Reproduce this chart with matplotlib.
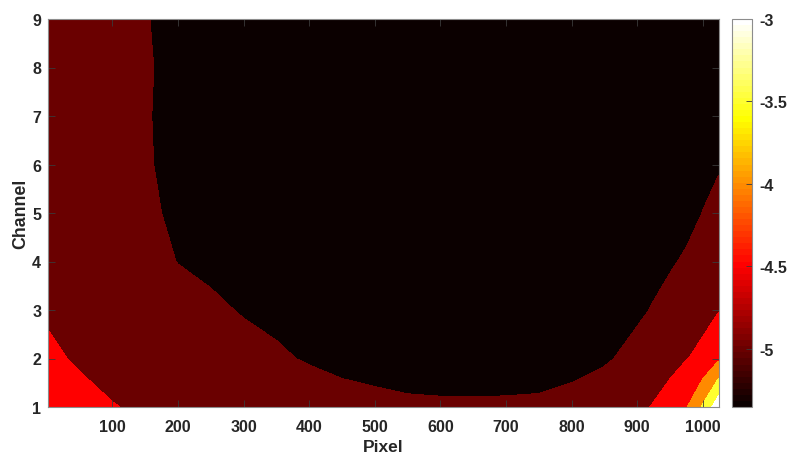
import numpy as np
import matplotlib
matplotlib.use("Agg")
import matplotlib.pyplot as plt
from matplotlib.colors import ListedColormap, Normalize
from matplotlib.cm import ScalarMappable

plt.rcParams["font.family"] = ["Liberation Sans", "DejaVu Sans"]
plt.rcParams["font.weight"] = "bold"

# Sample grid: detector pixel columns and channel rows
pixels = [1, 50, 100, 150, 200, 250, 300, 350, 400, 450, 500, 550, 600,
          650, 700, 750, 800, 850, 900, 925, 950, 975, 1000, 1024]
channels = [1, 2, 3, 4, 5, 6, 7, 8, 9]

# log10 signal per channel, one value per pixel column
ch1 = [-4.25, -4.36, -4.47, -4.60, -4.70, -4.76, -4.80, -4.84, -4.87, -4.90, -4.92, -4.94,
       -4.94, -4.94, -4.94, -4.93, -4.88, -4.79, -4.60, -4.47, -4.25, -4.03, -3.44, -2.68]
ch2 = [-4.42, -4.55, -4.74, -4.76, -4.82, -4.86, -4.90, -4.97, -5.02, -5.07, -5.11, -5.16,
       -5.21, -5.23, -5.20, -5.18, -5.12, -5.04, -4.90, -4.75, -4.68, -4.515, -4.40, -4.07]
ch3 = [-4.55, -4.68, -4.80, -4.85, -4.89, -4.95, -5.02, -5.05, -5.12, -5.16, -5.20, -5.24,
       -5.26, -5.27, -5.26, -5.24, -5.20, -5.14, -5.05, -4.98, -4.92, -4.75, -4.62, -4.52]
ch4 = [-4.65, -4.75, -4.84, -4.906, -5.006, -5.06, -5.12, -5.16, -5.20, -5.24, -5.27, -5.29,
       -5.30, -5.30, -5.29, -5.28, -5.25, -5.20, -5.12, -5.085, -5.025, -4.97, -4.80, -4.75]
ch5 = [-4.72, -4.80, -4.87, -4.92, -5.08, -5.14, -5.20, -5.24, -5.27, -5.30, -5.32, -5.33,
       -5.34, -5.34, -5.33, -5.31, -5.29, -5.24, -5.18, -5.14, -5.10, -5.07, -4.996, -4.93]
ch6 = [-4.78, -4.84, -4.89, -4.958, -5.12, -5.20, -5.25, -5.29, -5.31, -5.33, -5.345, -5.35,
       -5.35, -5.35, -5.34, -5.33, -5.31, -5.27, -5.21, -5.18, -5.14, -5.11, -5.06, -5.02]
ch7 = [-4.82, -4.86, -4.90, -4.965, -5.14, -5.22, -5.27, -5.30, -5.32, -5.34, -5.35, -5.355,
       -5.355, -5.35, -5.345, -5.335, -5.315, -5.28, -5.23, -5.20, -5.17, -5.14, -5.10, -5.08]
ch8 = [-4.85, -4.88, -4.92, -4.954, -5.13, -5.22, -5.27, -5.30, -5.32, -5.34, -5.345, -5.35,
       -5.35, -5.345, -5.34, -5.33, -5.31, -5.28, -5.23, -5.20, -5.18, -5.16, -5.13, -5.12]
ch9 = [-4.87, -4.90, -4.93, -4.98, -5.12, -5.20, -5.25, -5.28, -5.30, -5.32, -5.33, -5.335,
       -5.335, -5.33, -5.325, -5.315, -5.30, -5.27, -5.22, -5.20, -5.18, -5.17, -5.16, -5.15]

contour_levels = [-5.0, -4.5, -4.0, -3.5, -3.0]
cbar_ticks = [-5.0, -4.5, -4.0, -3.5, -3.0]
cbar_ticklabels = ["-5", "-4.5", "-4", "-3.5", "-3"]
clim = (-5.355, -3.0)

Z = np.array([ch1, ch2, ch3, ch4, ch5, ch6, ch7, ch8, ch9])
P, C = np.meshgrid(pixels, channels)

# 64-entry "hot" colormap
n = 64
k = np.arange(1, n + 1)
hot = np.column_stack([np.clip(k / 24, 0, 1),
                       np.clip((k - 24) / 24, 0, 1),
                       np.clip((k - 48) / 16, 0, 1)])
cmap = ListedColormap(hot)


def level_color(v):
    idx = int(np.floor((v - clim[0]) / (clim[1] - clim[0]) * n))
    return hot[min(max(idx, 0), n - 1)]


zmin, zmax = Z.min(), Z.max()
bounds = [zmin - 0.01] + contour_levels + [zmax + 0.01]
fill_colors = [level_color(zmin)] + [level_color(v) for v in contour_levels]

fig = plt.figure(figsize=(7.89, 4.60), dpi=100)
ax = fig.add_axes([47.5 / 789, 52 / 460, 671 / 789, 388 / 460])
ax.contourf(P, C, Z, levels=bounds, colors=fill_colors, antialiased=False)

text_col = "#262626"
ax.set_xlim(1, 1024)
ax.set_ylim(1, 9)
ax.set_xticks(range(100, 1001, 100))
ax.set_yticks(range(1, 10))
ax.tick_params(direction="in", top=True, right=True, length=5, width=0.6,
               color="#3a3a3a", labelsize=11.5, labelcolor=text_col)
ax.tick_params(axis="x", pad=8.5)
ax.tick_params(axis="y", pad=4.5)
for s in ax.spines.values():
    s.set_color("#8c8c8c")
    s.set_linewidth(0.8)
ax.set_xlabel("Pixel", fontsize=12.5, fontweight="bold", color=text_col, labelpad=4)
ax.set_ylabel("Channel", fontsize=12.8, fontweight="bold", color=text_col, labelpad=2)

cax = fig.add_axes([731.5 / 789, 52 / 460, 20 / 789, 388 / 460])
sm = ScalarMappable(norm=Normalize(*clim), cmap=cmap)
cb = fig.colorbar(sm, cax=cax, ticks=cbar_ticks)
cb.set_ticklabels(cbar_ticklabels)
cb.outline.set_edgecolor("#8c8c8c")
cb.outline.set_linewidth(0.8)
cax.tick_params(direction="in", length=4, width=0.6, color="#3a3a3a",
                labelsize=11.5, labelcolor=text_col, pad=6)

fig.savefig("out.png", dpi=100)
